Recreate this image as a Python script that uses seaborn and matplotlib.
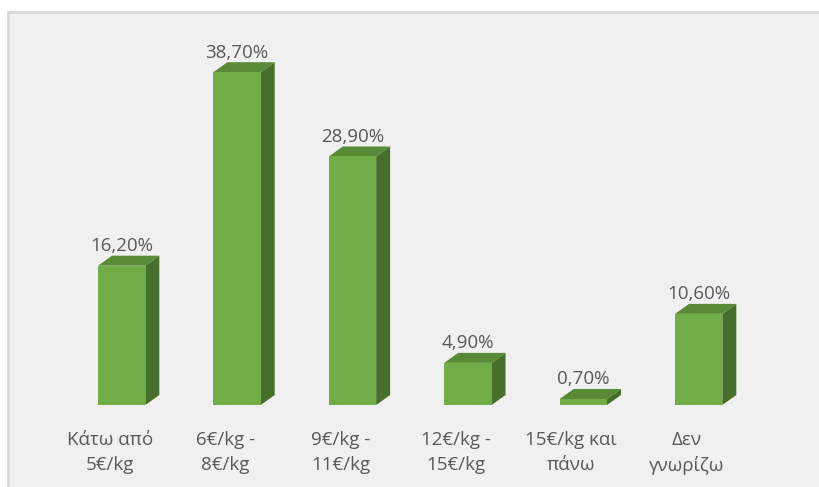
import numpy as np
import pandas as pd
import matplotlib
matplotlib.use("Agg")
import matplotlib.pyplot as plt
from matplotlib.patches import Polygon, Rectangle
import seaborn as sns

categories = ["Κάτω από\n5€/kg", "6€/kg -\n8€/kg", "9€/kg -\n11€/kg",
              "12€/kg -\n15€/kg", "15€/kg και\nπάνω", "Δεν\nγνωρίζω"]
shares = [16.2, 38.7, 28.9, 4.9, 0.7, 10.6]

FRONT = "#70AD47"
TOP = "#588A37"
SIDE = "#466F2B"
TEXT = "#595959"

sns.set_theme(style="white")
plt.rcParams["font.family"] = ["Open Sans", "DejaVu Sans"]

df = pd.DataFrame({"cat": categories, "share": shares})

fig = plt.figure(figsize=(8.2, 4.87), dpi=100, facecolor="white")
# chart area panel (light gray with border on top/left)
fig.patches.append(Rectangle((8 / 820, -0.05), 1.2, 1 - 12 / 487 + 0.05,
                             transform=fig.transFigure, facecolor="#F0F0F0",
                             edgecolor="#D9D9D9", lw=2, zorder=-10))

ax = fig.add_axes([64 / 820, 82 / 487, 692.4 / 820, 387 / 487])
ax.set_facecolor("none")
sns.barplot(data=df, x="cat", y="share", color=FRONT, width=0.41,
            saturation=1, ax=ax, zorder=3)

dx, dy = 0.121, 1.16  # pseudo-3D depth in data units
for bar, v in zip(ax.patches, shares):
    bar.set_edgecolor("none")
    x0 = bar.get_x()
    x1 = x0 + bar.get_width()
    h = bar.get_height()
    ax.add_patch(Polygon([(x1, 0), (x1 + dx, dy), (x1 + dx, h + dy), (x1, h)],
                         closed=True, facecolor=SIDE, edgecolor="none", zorder=2))
    ax.add_patch(Polygon([(x0, h), (x1, h), (x1 + dx, h + dy), (x0 + dx, h + dy)],
                         closed=True, facecolor=TOP, edgecolor="none", zorder=2))
    ax.annotate(f"{v:.2f}%".replace(".", ","), (x0 + bar.get_width() / 2, h + dy),
                xytext=(0, 0.5), textcoords="offset points", ha="center", va="bottom",
                fontsize=13.5, color=TEXT)

ax.set_xlim(-0.5, 5.5)
ax.set_ylim(0, 45)
ax.set_xticks(np.arange(len(categories)) - 0.104)
ax.set_xticklabels(categories, fontsize=13.5, color=TEXT, linespacing=1.5)
ax.tick_params(axis="x", length=0, pad=18.5)
ax.set_yticks([])
ax.set_xlabel("")
ax.set_ylabel("")
for s in ax.spines.values():
    s.set_visible(False)

fig.savefig("out.png", dpi=100, facecolor=fig.get_facecolor())
